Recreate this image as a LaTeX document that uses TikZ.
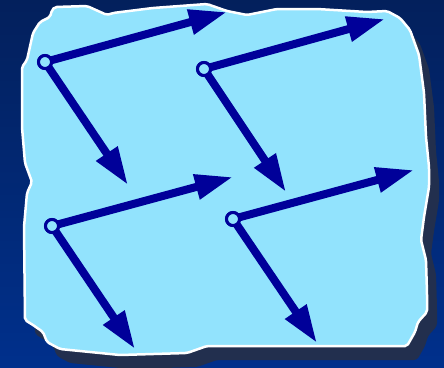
\documentclass[tikz,border=0pt]{standalone}
\usetikzlibrary{arrows.meta}
\definecolor{bgtop}{RGB}{3,32,92}
\definecolor{bgbot}{RGB}{0,48,140}
\definecolor{sheet}{RGB}{146,227,253}
\definecolor{dropshadow}{RGB}{34,47,78}
\definecolor{ink}{RGB}{0,0,153}
\tikzset{
  vec/.style={draw=ink, line width=8pt, -{Triangle[length=38pt,width=24pt]}},
  pivot/.style={circle, draw=ink, fill=sheet, line width=3pt, minimum size=13pt, inner sep=0pt},
}
\begin{document}
\begin{tikzpicture}[x=1pt,y=-1pt]
  % background
  \shade[top color=bgtop, bottom color=bgbot] (0,0) rectangle (444,367);
  \useasboundingbox (0,0) rectangle (444,367);
  % irregular sheet outline
  \def\sheetpath{(55,7) -- (87,6) -- (107,15) -- (113,13) -- (153,8) -- (207,4) -- (227,11) -- (247,15) -- (277,9) -- (317,9) -- (367,12) -- (387,11) -- (400,18) -- (410,30) -- (419,55) -- (424,93) -- (426,137) -- (429,167) -- (429,187) -- (424,217) -- (421,240) -- (426,260) -- (427,293) -- (427,312) -- (418,322) -- (415,332) -- (407,346) -- (207,346) -- (187,353) -- (120,355) -- (60,349) -- (47,342) -- (43,332) -- (33,325) -- (25,320) -- (24,227) -- (27,193) -- (32,182) -- (25,163) -- (22,127) -- (22,67) -- (27,60) -- (33,33) -- (40,22) -- (50,17) -- (52,10) -- cycle}
  \fill[dropshadow, shift={(10,14)}, rounded corners=3pt] \sheetpath;
  \filldraw[fill=sheet, draw=white, line width=2.5pt, rounded corners=2pt] \sheetpath;
  % pivots
  \node[pivot] (p1) at (45,62) {};
  \node[pivot] (p2) at (204,69) {};
  \node[pivot] (p3) at (52,226) {};
  \node[pivot] (p4) at (233,219) {};
  % arrow tips
  \coordinate (r1) at (227,12);  \coordinate (d1) at (128,185);
  \coordinate (r2) at (385,19);  \coordinate (d2) at (286,192);
  \coordinate (r3) at (233,177); \coordinate (d3) at (135,349);
  \coordinate (r4) at (414,170); \coordinate (d4) at (317,343);
  \foreach \i in {1,2,3,4} {
    \draw[vec] (p\i.center) -- (r\i);
    \draw[vec] (p\i.center) -- (d\i);
  }
  % redraw pivots on top of the shafts
  \foreach \i/\pos in {1/{(45,62)},2/{(204,69)},3/{(52,226)},4/{(233,219)}}
    \node[pivot] at \pos {};
\end{tikzpicture}
\end{document}
